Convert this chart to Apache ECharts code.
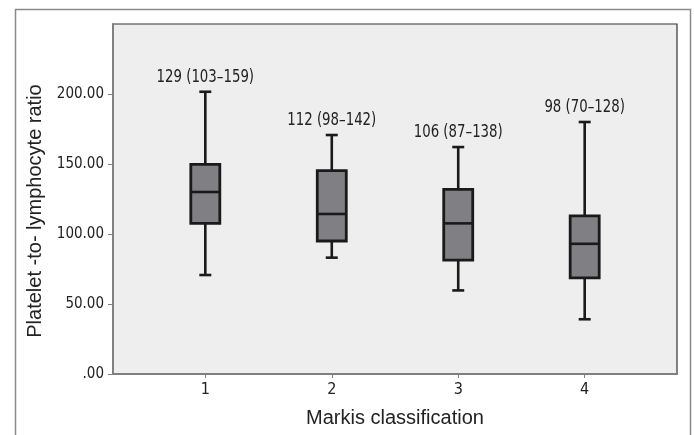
<!DOCTYPE html>
<html>
<head>
<meta charset="utf-8">
<script src="https://cdn.jsdelivr.net/npm/echarts@6/dist/echarts.min.js"></script>
<style>html,body{margin:0;padding:0;background:#fff}#c{width:694px;height:435px}</style>
</head>
<body>
<div id="c"></div>
<script>
// Data
const groups = [1, 2, 3, 4];
const mins    = [70.7, 83.1, 59.7, 39.1];
const q1s     = [107.6, 95.0, 81.3, 68.6];
const medians = [130.0, 114.3, 107.6, 93.0];
const q3s     = [149.8, 145.2, 131.9, 112.9];
const maxs    = [201.6, 170.7, 162.1, 180.0];
const boxLabels = ['129 (103–159)', '112 (98–142)', '106 (87–138)', '98 (70–128)'];
const yTicks = [0, 50, 100, 150, 200];
const xTitle = 'Markis classification';
const yTitle = 'Platelet -to- lymphocyte ratio';

const NARROW = '"Liberation Sans Narrow","DejaVu Sans Condensed","Liberation Sans",sans-serif';
const REG = '"Liberation Sans",Arial,sans-serif';

const data = groups.map((g, i) => [g, mins[i], q1s[i], medians[i], q3s[i], maxs[i], i]);

const chart = echarts.init(document.getElementById('c'), null, {renderer: 'canvas'});
chart.setOption({
  animation: false,
  backgroundColor: '#ffffff',
  graphic: [{
    type: 'rect', left: 13, top: 7, z: -10,
    shape: {width: 675, height: 440},
    style: {fill: 'none', stroke: '#8a8a8a', lineWidth: 1.5}
  }],
  grid: {
    left: 113, top: 24, right: 17, bottom: 61,
    show: true, backgroundColor: '#eeeeee', borderColor: '#333333', borderWidth: 1.2
  },
  xAxis: {
    type: 'value', min: 0.27, max: 4.73,
    splitLine: {show: false},
    axisLine: {show: true, onZero: false, lineStyle: {color: '#808080', width: 2}},
    axisTick: {show: true, customValues: groups, length: 4, lineStyle: {color: '#808080', width: 1}},
    axisLabel: {customValues: groups, margin: 8, color: '#222', fontFamily: NARROW, fontSize: 16,
      formatter: v => String(v)},
    name: xTitle, nameLocation: 'middle', nameGap: 34,
    nameTextStyle: {color: '#222', fontFamily: REG, fontSize: 20}
  },
  yAxis: {
    type: 'value', min: 0, max: 250,
    splitLine: {show: false},
    axisLine: {show: true, lineStyle: {color: '#808080', width: 2}},
    axisTick: {show: true, customValues: yTicks, length: 5, lineStyle: {color: '#808080', width: 1}},
    axisLabel: {customValues: yTicks, margin: 9, color: '#222', fontFamily: NARROW, fontSize: 15,
      formatter: v => v === 0 ? '.00' : v.toFixed(2)},
    name: yTitle, nameLocation: 'middle', nameGap: 57,
    nameTextStyle: {color: '#222', fontFamily: REG, fontSize: 20, padding: [0, 24, 0, 0]}
  },
  series: [{
    type: 'custom',
    data: data,
    encode: {x: 0, y: [1, 2, 3, 4, 5]},
    renderItem: function (params, api) {
      const x = api.value(0);
      const pMin = api.coord([x, api.value(1)]);
      const pQ1 = api.coord([x, api.value(2)]);
      const pMed = api.coord([x, api.value(3)]);
      const pQ3 = api.coord([x, api.value(4)]);
      const pMax = api.coord([x, api.value(5)]);
      const cx = pMed[0];
      const hw = 14.5, cap = 6;
      const lineStyle = {stroke: '#1a1a1a', lineWidth: 2.6, fill: null};
      const idx = api.value(6);
      return {
        type: 'group',
        children: [
          {type: 'line', shape: {x1: cx, y1: pMax[1], x2: cx, y2: pQ3[1]}, style: lineStyle},
          {type: 'line', shape: {x1: cx, y1: pQ1[1], x2: cx, y2: pMin[1]}, style: lineStyle},
          {type: 'line', shape: {x1: cx - cap, y1: pMax[1], x2: cx + cap, y2: pMax[1]}, style: lineStyle},
          {type: 'line', shape: {x1: cx - cap, y1: pMin[1], x2: cx + cap, y2: pMin[1]}, style: lineStyle},
          {type: 'rect', shape: {x: cx - hw, y: pQ3[1], width: 2 * hw, height: pQ1[1] - pQ3[1]},
            style: {fill: '#808084', stroke: '#1a1a1a', lineWidth: 2.8}},
          {type: 'line', shape: {x1: cx - hw, y1: pMed[1], x2: cx + hw, y2: pMed[1]}, style: lineStyle},
          {type: 'text', x: cx, y: pMax[1] - 15, scaleX: 0.8,
            style: {text: boxLabels[idx], fill: '#222', font: '18.5px ' + NARROW,
              align: 'center', verticalAlign: 'middle'}}
        ]
      };
    }
  }]
});
</script>
</body>
</html>
